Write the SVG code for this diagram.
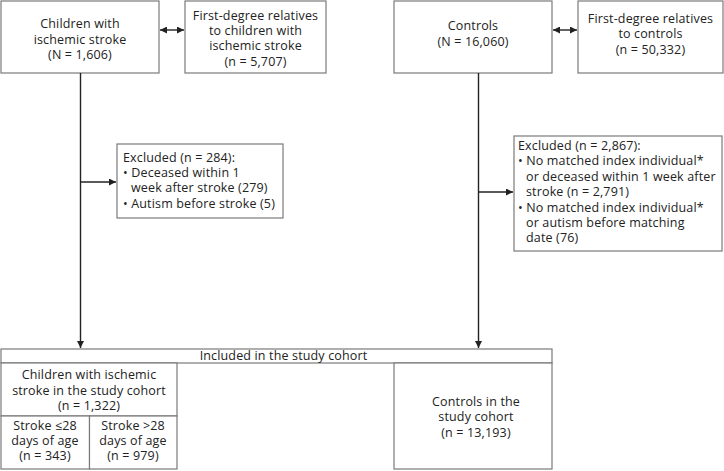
<svg xmlns="http://www.w3.org/2000/svg" width="724" height="471" viewBox="0 0 724 471">
<style>
.box{fill:#fff;stroke:#7a7a7a;stroke-width:1.2}
text{font-family:"Open Sans","Noto Sans","Liberation Sans",sans-serif;font-size:12.5px;letter-spacing:0.15px;fill:#222}
.c{text-anchor:middle}
.ln{stroke:#222;stroke-width:1.4;fill:none}
</style>
<defs>
<marker id="ah" viewBox="0 0 10 10" refX="10" refY="5" markerWidth="7" markerHeight="7" markerUnits="userSpaceOnUse" orient="auto-start-reverse">
<path d="M0,0L10,5L0,10z" fill="#222"/>
</marker>
</defs>
<rect width="724" height="471" fill="#fff"/>
<g id="children">
<rect class="box" x="1" y="1" width="158" height="72"/>
<text class="c" y="28"><tspan x="80">Children with</tspan><tspan x="80" dy="15.5">ischemic stroke</tspan><tspan x="80" dy="15.5">(N = 1,606)</tspan></text>
</g>
<g id="relatives-children">
<rect class="box" x="185" y="1" width="141" height="72"/>
<text class="c" y="19.6"><tspan x="255.5">First-degree relatives</tspan><tspan x="255.5" dy="15.4">to children with</tspan><tspan x="255.5" dy="15.4">ischemic stroke</tspan><tspan x="255.5" dy="15.4">(n = 5,707)</tspan></text>
</g>
<g id="controls">
<rect class="box" x="394" y="1" width="158" height="72"/>
<text class="c" y="30"><tspan x="473">Controls</tspan><tspan x="473" dy="15.5">(N = 16,060)</tspan></text>
</g>
<g id="relatives-controls">
<rect class="box" x="578" y="1" width="145" height="72"/>
<text class="c" y="23"><tspan x="650.5">First-degree relatives</tspan><tspan x="650.5" dy="15.4">to controls</tspan><tspan x="650.5" dy="15.4">(n = 50,332)</tspan></text>
</g>
<g id="excluded-children">
<rect class="box" x="117" y="144" width="166" height="74"/>
<text y="161.5"><tspan x="123">Excluded (n = 284):</tspan><tspan x="123" dy="15.4">• Deceased within 1</tspan><tspan x="131" dy="15.4">week after stroke (279)</tspan><tspan x="123" dy="15.4">• Autism before stroke (5)</tspan></text>
</g>
<g id="excluded-controls">
<rect class="box" x="514" y="136" width="208" height="115"/>
<text y="150"><tspan x="518">Excluded (n = 2,867):</tspan><tspan x="518" dy="15.4">• No matched index individual*</tspan><tspan x="526" dy="15.4">or deceased within 1 week after</tspan><tspan x="526" dy="15.4">stroke (n = 2,791)</tspan><tspan x="518" dy="15.4">• No matched index individual*</tspan><tspan x="526" dy="15.4">or autism before matching</tspan><tspan x="526" dy="15.4">date (76)</tspan></text>
</g>
<g id="included-header">
<rect class="box" x="1" y="349" width="551" height="14"/>
<text class="c" x="283.5" y="360.3">Included in the study cohort</text>
</g>
<g id="children-cohort">
<rect class="box" x="1" y="363" width="176" height="53"/>
<text class="c" y="379.2"><tspan x="89">Children with ischemic</tspan><tspan x="89" dy="15.4">stroke in the study cohort</tspan><tspan x="89" dy="15.4">(n = 1,322)</tspan></text>
</g>
<g id="stroke-le28">
<rect class="box" x="1" y="416" width="88.5" height="53"/>
<text class="c" y="429.6"><tspan x="45">Stroke ≤28</tspan><tspan x="45" dy="15.4">days of age</tspan><tspan x="45" dy="15.4">(n = 343)</tspan></text>
</g>
<g id="stroke-gt28">
<rect class="box" x="89.5" y="416" width="87.5" height="53"/>
<text class="c" y="429.6"><tspan x="133">Stroke &gt;28</tspan><tspan x="133" dy="15.4">days of age</tspan><tspan x="133" dy="15.4">(n = 979)</tspan></text>
</g>
<g id="controls-cohort">
<rect class="box" x="394" y="363" width="158" height="106"/>
<text class="c" y="406"><tspan x="476">Controls in the</tspan><tspan x="476" dy="15.4">study cohort</tspan><tspan x="476" dy="15.4">(n = 13,193)</tspan></text>
</g>
<g id="connectors">
<line class="ln" x1="160" y1="30" x2="184" y2="30" marker-start="url(#ah)" marker-end="url(#ah)"/>
<line class="ln" x1="553" y1="30" x2="577" y2="30" marker-start="url(#ah)" marker-end="url(#ah)"/>
<line class="ln" x1="80.5" y1="73" x2="80.5" y2="348"  marker-end="url(#ah)"/>
<line class="ln" x1="80.5" y1="182" x2="116" y2="182" marker-end="url(#ah)"/>
<line class="ln" x1="478.5" y1="73" x2="478.5" y2="348" marker-end="url(#ah)"/>
<line class="ln" x1="478.5" y1="192" x2="513" y2="192" marker-end="url(#ah)"/>
</g>
</svg>
